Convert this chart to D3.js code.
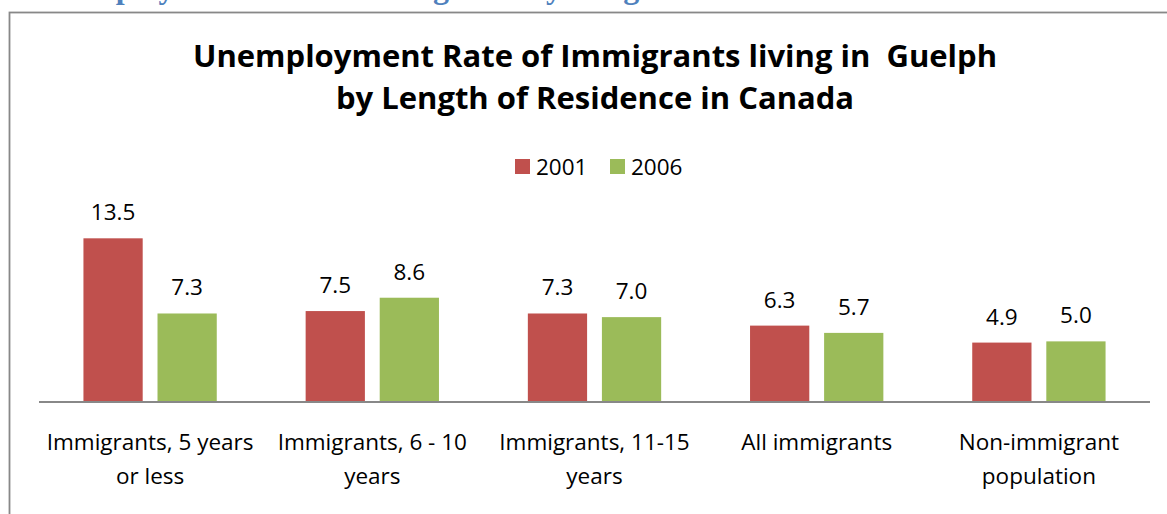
<!DOCTYPE html>
<html><head><meta charset="utf-8">
<script src="https://cdn.jsdelivr.net/npm/d3@7"></script>
<style>
html,body{margin:0;padding:0;background:#fff;overflow:hidden}
</style></head>
<body><svg id="c" width="1167" height="514"></svg>
<script>
const categories = [
  ["Immigrants, 5 years","or less"],
  ["Immigrants, 6 - 10","years"],
  ["Immigrants, 11-15","years"],
  ["All immigrants"],
  ["Non-immigrant","population"]
];
const seriesNames = ["2001","2006"];
const values2001 = [13.5, 7.5, 7.3, 6.3, 4.9];
const values2006 = [7.3, 8.6, 7.0, 5.7, 5.0];
const colors = ["#C0504D","#9BBB59"];
const titleLines = ["Unemployment Rate of Immigrants living in\u00A0 Guelph","by Length of Residence in Canada"];
const headingText = "Unemployment Rate of Immigrants by Length of Residence";

const FONT = "'Open Sans',Lato,sans-serif";
const svg = d3.select("#c");

// cut-off document heading above chart
svg.append("text").attr("x",34).attr("y",-2).style("font-family","'Liberation Serif',serif")
  .attr("font-weight","bold").attr("font-size",32).attr("fill","#4F81BD").text(headingText);

// frame
svg.append("rect").attr("x",9.5).attr("y",12.5).attr("width",1200).attr("height",600)
  .attr("fill","#fff").attr("stroke","#888").attr("stroke-width",1.8);

// title
svg.append("g").selectAll("text").data(titleLines).join("text")
  .attr("x",595).attr("y",(d,i)=>67+i*42).attr("text-anchor","middle")
  .style("font-family",FONT).attr("font-weight","bold").attr("font-size",31).attr("fill","#000").text(d=>d);

const x0 = d3.scaleBand().domain(d3.range(categories.length)).range([39,1150]).paddingInner(0.4).paddingOuter(0.2);
const x1 = d3.scaleBand().domain(seriesNames).range([0,x0.bandwidth()]).paddingInner(0.2);
const y = d3.scaleLinear().domain([0,16]).range([402,208]);

const data = categories.map((c,i)=>({i, vals:[values2001[i],values2006[i]]}));

const g = svg.append("g");
const groups = g.selectAll("g.grp").data(data).join("g").attr("class","grp")
  .attr("transform",d=>`translate(${x0(d.i)},0)`);
groups.selectAll("rect").data(d=>d.vals.map((v,k)=>({k,v}))).join("rect")
  .attr("x",d=>x1(seriesNames[d.k])).attr("y",d=>y(d.v))
  .attr("width",x1.bandwidth()).attr("height",d=>y(0)-y(d.v)).attr("fill",d=>colors[d.k]);
groups.selectAll("text.val").data(d=>d.vals.map((v,k)=>({k,v}))).join("text").attr("class","val")
  .attr("x",d=>x1(seriesNames[d.k])+x1.bandwidth()/2).attr("y",d=>y(d.v)-18)
  .attr("text-anchor","middle").style("font-family",FONT).attr("font-size",22.5).attr("fill","#000").text(d=>d.v.toFixed(1));

// axis
const xAxis = d3.axisBottom(x0).tickSize(0).tickFormat("");
const ax = svg.append("g").attr("transform","translate(0,402)").call(xAxis);
ax.select(".domain").attr("stroke","#888").attr("stroke-width",2).attr("d","M39,0H1150");

// category labels
const cl = svg.append("g").selectAll("text").data(categories).join("text")
  .attr("text-anchor","middle").style("font-family",FONT).attr("font-size",22.5).attr("fill","#000")
  .attr("transform",(d,i)=>`translate(${x0(i)+x0.bandwidth()/2},450)`);
cl.selectAll("tspan").data(d=>d).join("tspan").attr("x",0).attr("dy",(d,i)=>i?34:0).text(d=>d);

// legend
const leg = svg.append("g").selectAll("g").data(seriesNames).join("g")
  .attr("transform",(d,i)=>`translate(${515+i*95},159)`);
leg.append("rect").attr("width",15).attr("height",15).attr("fill",(d,i)=>colors[i]);
leg.append("text").attr("x",21).attr("y",16).style("font-family",FONT).attr("font-size",22.5).attr("fill","#000").text(d=>d);
</script></body></html>
